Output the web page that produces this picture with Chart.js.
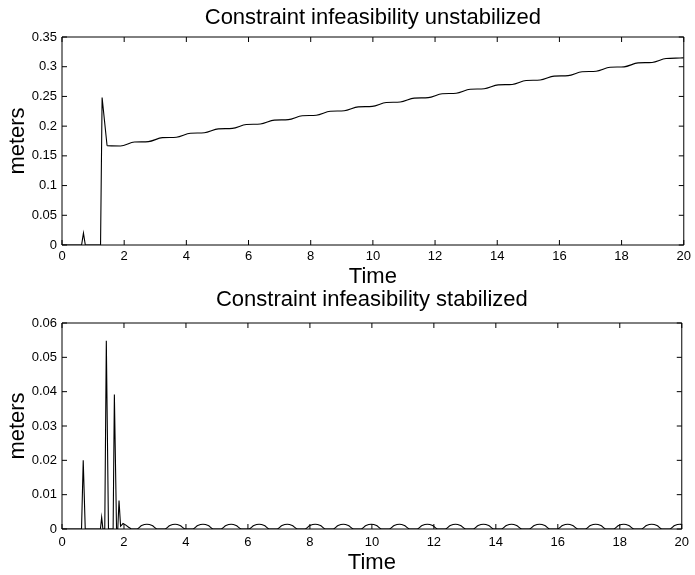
<!DOCTYPE html>
<html>
<head>
<meta charset="utf-8">
<title>Constraint infeasibility</title>
<script src="https://cdn.jsdelivr.net/npm/chart.js@4.4.1/dist/chart.umd.min.js"></script>
<style>
  html, body { margin: 0; padding: 0; background: #fff; }
  #wrap { position: relative; width: 695px; height: 575px; }
  canvas { position: absolute; left: 0; }
  #topChart { top: 0; }
  #bottomChart { top: 288px; }
</style>
</head>
<body>
<div id="wrap">
  <canvas id="topChart" width="695" height="288"></canvas>
  <canvas id="bottomChart" width="695" height="287"></canvas>
</div>
<script>
// ── Data ──

const timeTicks = [0, 2, 4, 6, 8, 10, 12, 14, 16, 18, 20]
const unstabTicks = [0, 0.05, 0.1, 0.15, 0.2, 0.25, 0.3, 0.35]
const stabTicks = [0, 0.01, 0.02, 0.03, 0.04, 0.05, 0.06]

// unstabilized: spike, jump, then slow staircase drift
const unstabTime = [
  0, 0.63, 0.69, 0.75, 1.24, 1.29, 1.45,
  1.88, 2.33, 2.78, 3.23, 3.68, 4.13, 4.58, 5.03, 5.48, 5.93,
  6.38, 6.83, 7.28, 7.73, 8.18, 8.63, 9.08, 9.53, 9.98, 10.43,
  10.88, 11.33, 11.78, 12.23, 12.68, 13.13, 13.58, 14.03, 14.48, 14.93,
  15.38, 15.83, 16.28, 16.73, 17.18, 17.63, 18.08, 18.53, 18.98, 19.43,
  19.88, 20
]
const unstabValue = [
  0, 0, 0.020, 0, 0, 0.248, 0.167,
  0.1666, 0.1732, 0.1740, 0.1806, 0.1814, 0.1880, 0.1888, 0.1954, 0.1962, 0.2028,
  0.2036, 0.2102, 0.2110, 0.2176, 0.2184, 0.2250, 0.2258, 0.2324, 0.2332, 0.2398,
  0.2406, 0.2472, 0.2480, 0.2546, 0.2554, 0.2620, 0.2628, 0.2694, 0.2702, 0.2768,
  0.2776, 0.2842, 0.2850, 0.2916, 0.2924, 0.2990, 0.2998, 0.3064, 0.3072, 0.3138,
  0.3146, 0.3150
]

// stabilized: a few spikes, then small periodic arches
const stabTime = [
  0, 0.63, 0.685, 0.75, 1.24, 1.28, 1.32, 1.38, 1.43, 1.50, 1.65, 1.69, 1.76,
  1.80, 1.84, 1.89, 1.93, 1.97, 2.05, 2.15, 2.24,
  2.42, 2.57, 2.74, 2.91, 3.07,
  3.32, 3.48, 3.65, 3.81, 3.98,
  4.22, 4.38, 4.55, 4.72, 4.88,
  5.13, 5.29, 5.46, 5.62, 5.79,
  6.03, 6.19, 6.36, 6.53, 6.69,
  6.94, 7.10, 7.27, 7.43, 7.60,
  7.84, 8.00, 8.17, 8.34, 8.50,
  8.75, 8.91, 9.08, 9.24, 9.41,
  9.65, 9.81, 9.98, 10.15, 10.31,
  10.56, 10.72, 10.89, 11.05, 11.22,
  11.46, 11.62, 11.79, 11.96, 12.12,
  12.37, 12.53, 12.70, 12.86, 13.03,
  13.27, 13.43, 13.60, 13.77, 13.93,
  14.18, 14.34, 14.51, 14.67, 14.84,
  15.08, 15.24, 15.41, 15.58, 15.74,
  15.99, 16.15, 16.32, 16.48, 16.65,
  16.89, 17.05, 17.22, 17.39, 17.55,
  17.80, 17.96, 18.13, 18.29, 18.46,
  18.70, 18.86, 19.03, 19.20, 19.36,
  19.61, 19.77, 19.94, 20
]
const stabValue = [
  0, 0, 0.020, 0, 0, 0.0034, 0, 0, 0.0548, 0, 0, 0.0392, 0,
  0, 0.0083, 0.0008, 0.0012, 0.0016, 0.0012, 0.0005, 0,
  0, 0.0010, 0.0014, 0.0010, 0,
  0, 0.0010, 0.0014, 0.0010, 0,
  0, 0.0010, 0.0014, 0.0010, 0,
  0, 0.0010, 0.0014, 0.0010, 0,
  0, 0.0010, 0.0014, 0.0010, 0,
  0, 0.0010, 0.0014, 0.0010, 0,
  0, 0.0010, 0.0014, 0.0010, 0,
  0, 0.0010, 0.0014, 0.0010, 0,
  0, 0.0010, 0.0014, 0.0010, 0,
  0, 0.0010, 0.0014, 0.0010, 0,
  0, 0.0010, 0.0014, 0.0010, 0,
  0, 0.0010, 0.0014, 0.0010, 0,
  0, 0.0010, 0.0014, 0.0010, 0,
  0, 0.0010, 0.0014, 0.0010, 0,
  0, 0.0010, 0.0014, 0.0010, 0,
  0, 0.0010, 0.0014, 0.0010, 0,
  0, 0.0010, 0.0014, 0.0010, 0,
  0, 0.0010, 0.0014, 0.0010, 0,
  0, 0.0010, 0.0014, 0.0010, 0,
  0, 0.0010, 0.0014, 0.0013
]

// ── Chart setup ──

Chart.defaults.font.family = '"Liberation Sans", Arial, Helvetica, sans-serif'
Chart.defaults.color = '#000'

// box around the plot with inward ticks on all four sides
const boxTicks = {
  id: 'boxTicks',
  afterDraw (chart) {
    const { ctx, chartArea: a, scales: { x, y } } = chart
    ctx.save()
    ctx.strokeStyle = '#000'
    ctx.lineWidth = 1
    ctx.beginPath()
    ctx.rect(a.left, a.top, a.right - a.left, a.bottom - a.top)
    x.ticks.forEach(t => {
      const px = x.getPixelForValue(t.value)
      ctx.moveTo(px, a.bottom); ctx.lineTo(px, a.bottom - 5)
      ctx.moveTo(px, a.top); ctx.lineTo(px, a.top + 5)
    })
    y.ticks.forEach(t => {
      const py = y.getPixelForValue(t.value)
      ctx.moveTo(a.left, py); ctx.lineTo(a.left + 5, py)
      ctx.moveTo(a.right, py); ctx.lineTo(a.right - 5, py)
    })
    ctx.stroke()
    ctx.restore()
  }
}

const fmt = v => String(Math.round(v * 1000) / 1000)

function lineSet (points, tension) {
  return {
    data: points,
    borderColor: '#000',
    borderWidth: 1.1,
    pointRadius: 0,
    tension,
    cubicInterpolationMode: tension ? 'monotone' : 'default',
    fill: false
  }
}

function makeChart (canvas, cfg) {
  const points = cfg.time.map((t, i) => ({ x: t, y: cfg.value[i] }))
  // spikes drawn straight, the slow part smoothed
  const sharp = points.slice(0, cfg.split + 1)
  const smooth = points.slice(cfg.split)
  return new Chart(canvas, {
    type: 'line',
    data: { datasets: [lineSet(sharp, 0), lineSet(smooth, 0.4)] },
    options: {
      responsive: false,
      animation: false,
      devicePixelRatio: 1,
      layout: { padding: { left: 0, right: 10, top: 0, bottom: 0 } },
      plugins: {
        legend: { display: false },
        tooltip: { enabled: false },
        title: {
          display: true,
          text: cfg.title,
          fullSize: false,
          color: '#000',
          font: { size: 22, weight: 'normal', lineHeight: 1 },
          padding: cfg.titlePad
        }
      },
      scales: {
        x: {
          type: 'linear',
          min: 0,
          max: 20,
          afterBuildTicks: s => { s.ticks = timeTicks.map(v => ({ value: v })) },
          afterFit: s => { s.height = cfg.xHeight },
          grid: { display: false, drawTicks: false },
          border: { display: false },
          ticks: { font: { size: 13 }, padding: cfg.xTickPad, maxRotation: 0, callback: fmt },
          title: { display: true, text: 'Time', font: { size: 22, lineHeight: 1 }, padding: { top: 0, bottom: cfg.timePad } }
        },
        y: {
          type: 'linear',
          min: 0,
          max: cfg.yMax,
          afterBuildTicks: s => { s.ticks = cfg.yTicks.map(v => ({ value: v })) },
          afterFit: s => { s.width = 62 },
          grid: { display: false, drawTicks: false },
          border: { display: false },
          ticks: { font: { size: 13 }, padding: 5, callback: fmt },
          title: { display: true, text: 'meters', font: { size: 22, lineHeight: 1 }, padding: { top: 7, bottom: 0 } }
        }
      }
    },
    plugins: [boxTicks]
  })
}

makeChart(document.getElementById('topChart'), {
  title: 'Constraint infeasibility unstabilized',
  time: unstabTime,
  value: unstabValue,
  split: 6,
  yMax: 0.35,
  yTicks: unstabTicks,
  titlePad: { top: 7, bottom: 8 },
  xHeight: 43,
  xTickPad: 4,
  timePad: 0.5
})

makeChart(document.getElementById('bottomChart'), {
  title: 'Constraint infeasibility stabilized',
  time: stabTime,
  value: stabValue,
  split: 20,
  yMax: 0.06,
  yTicks: stabTicks,
  titlePad: { top: 1, bottom: 12 },
  xHeight: 46,
  xTickPad: 6,
  timePad: 1
})
</script>
</body>
</html>
